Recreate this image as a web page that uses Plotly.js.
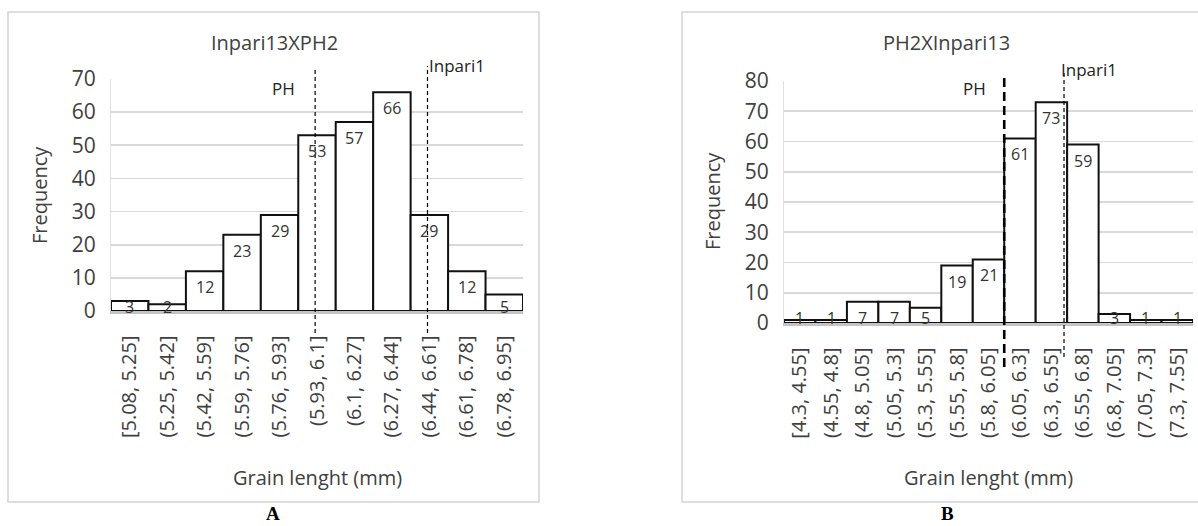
<!DOCTYPE html>
<html>
<head>
<meta charset="utf-8">
<script src="https://cdn.plot.ly/plotly-3.0.1.min.js"></script>
<style>
  html, body { margin: 0; padding: 0; background: #ffffff; }
  #chart { width: 1198px; height: 526px; }
</style>
</head>
<body>
<div id="chart"></div>
<script>
// ---------------- data ----------------
const leftTitle = "Inpari13XPH2";
const rightTitle = "PH2XInpari13";
const xTitle = "Grain lenght (mm)";
const yTitle = "Frequency";

const leftCats = ["[5.08, 5.25]", "(5.25, 5.42]", "(5.42, 5.59]", "(5.59, 5.76]", "(5.76, 5.93]",
                  "(5.93, 6.1]", "(6.1, 6.27]", "(6.27, 6.44]", "(6.44, 6.61]", "(6.61, 6.78]", "(6.78, 6.95]"];
const leftVals = [3, 2, 12, 23, 29, 53, 57, 66, 29, 12, 5];

const rightCats = ["[4.3, 4.55]", "(4.55, 4.8]", "(4.8, 5.05]", "(5.05, 5.3]", "(5.3, 5.55]", "(5.55, 5.8]",
                   "(5.8, 6.05]", "(6.05, 6.3]", "(6.3, 6.55]", "(6.55, 6.8]", "(6.8, 7.05]", "(7.05, 7.3]", "(7.3, 7.55]"];
const rightVals = [1, 1, 7, 7, 5, 19, 21, 61, 73, 59, 3, 1, 1];

// parent reference lines (position on the category axis, as category index)
const leftPH = 4.95, leftInpari1 = 7.95;
const rightPH = 6.5, rightInpari1 = 8.4;

const panelLetters = ["A", "B"];

// ---------------- layout helpers ----------------
const W = 1198, H = 526;
const fx = p => p / W;
const fy = p => 1 - p / H;

const FONT = "Open Sans, Noto Sans, sans-serif";
const TXT = "#404040";

const bar = (x, y, xa, ya) => ({
  type: "bar", x: x, y: y, xaxis: xa, yaxis: ya,
  marker: { color: "#ffffff", line: { color: "#111111", width: 2 } },
  hoverinfo: "skip", showlegend: false
});

const data = [
  bar(leftCats, leftVals, "x", "y"),
  bar(rightCats, rightVals, "x2", "y2")
];

function xAxis(dom, anchor, n) {
  return {
    domain: dom, anchor: anchor, type: "category",
    range: [-0.5, n - 0.5],
    tickangle: -90, ticks: "", ticklabelstandoff: 14,
    tickfont: { family: FONT, size: 20, color: TXT },
    showgrid: false, zeroline: false,
    showline: true, linecolor: "#c4c4c4", linewidth: 2.5,
    fixedrange: true
  };
}
function yAxis(dom, anchor, max) {
  return {
    domain: dom, anchor: anchor, range: [0, max], dtick: 10,
    ticks: "", ticklabelstandoff: 10,
    tickfont: { family: FONT, size: 21, color: TXT },
    showgrid: true, gridcolor: "#d9d9d9", gridwidth: 1.8,
    zeroline: false, showline: true, linecolor: "#e0e0e0", linewidth: 1,
    fixedrange: true
  };
}

const annotations = [];
const shapes = [];

// value labels ("inside end", kept inside the plot for short bars)
function valueLabels(cats, vals, xa, ya, clamp) {
  cats.forEach((c, i) => {
    annotations.push({
      xref: xa, yref: ya, x: c, y: Math.max(vals[i], clamp),
      yanchor: "top", yshift: -3, showarrow: false,
      text: String(vals[i]),
      font: { family: FONT, size: 16, color: "#333333" }
    });
  });
}
valueLabels(leftCats, leftVals, "x", "y", 6);
valueLabels(rightCats, rightVals, "x2", "y2", 7);

// chart frames
shapes.push({ type: "rect", xref: "paper", yref: "paper", x0: fx(8), x1: fx(539), y0: fy(502), y1: fy(12),
  line: { color: "#d4d4d4", width: 1.5 }, fillcolor: "rgba(0,0,0,0)", layer: "below" });
shapes.push({ type: "rect", xref: "paper", yref: "paper", x0: fx(682), x1: fx(1215), y0: fy(502), y1: fy(12),
  line: { color: "#d4d4d4", width: 1.5 }, fillcolor: "rgba(0,0,0,0)", layer: "below" });

// dashed reference lines
function vline(xa, x, yTop, yBot, width, dash) {
  shapes.push({ type: "line", xref: xa, yref: "paper", x0: x, x1: x, y0: fy(yBot), y1: fy(yTop),
    line: { color: "#000000", width: width, dash: dash }, layer: "above" });
}
vline("x", leftPH, 68, 333, 1.2, "4px,3px");
vline("x", leftInpari1, 66, 333, 1.2, "4px,3px");
vline("x2", rightPH, 78, 367, 2.6, "9px,5px");
vline("x2", rightInpari1, 70, 357, 1.2, "4px,3px");

function label(xa, x, yPix, text, anchor, shift) {
  annotations.push({ xref: xa, yref: "paper", x: x, y: fy(yPix), text: text, showarrow: false,
    xanchor: anchor, yanchor: "middle", xshift: shift,
    font: { family: FONT, size: 17, color: "#222222" } });
}
label("x", leftPH, 89, "PH", "right", -18);
label("x", leftInpari1, 65, "Inpari1", "left", 0);
label("x2", rightPH, 88, "PH", "right", -16);
label("x2", rightInpari1, 69, "Inpari1", "left", -5);

// titles
function ptext(xPix, yPix, text, size, angle, extra) {
  annotations.push(Object.assign({ xref: "paper", yref: "paper", x: fx(xPix), y: fy(yPix), text: text,
    showarrow: false, xanchor: "center", yanchor: "middle", textangle: angle,
    font: { family: FONT, size: size, color: TXT } }, extra || {}));
}
ptext(274, 43, leftTitle, 20, 0);
ptext(947, 43, rightTitle, 20, 0);
ptext(39, 195, yTitle, 20, -90);
ptext(712, 201, yTitle, 20, -90);
ptext(317, 477, xTitle, 20, 0);
ptext(988, 477, xTitle, 20, 0);
const letterFont = { family: "Liberation Serif, serif", size: 19, color: "#000000", weight: "bold" };
ptext(273, 525, panelLetters[0], 19, 0, { yanchor: "bottom", borderpad: 0, font: letterFont });
ptext(948, 525, panelLetters[1], 19, 0, { yanchor: "bottom", borderpad: 0, font: letterFont });

const layout = {
  width: W, height: H,
  margin: { l: 0, r: 0, t: 0, b: 0, pad: 0 },
  paper_bgcolor: "#ffffff", plot_bgcolor: "rgba(0,0,0,0)",
  showlegend: false, bargap: 0,
  font: { family: FONT, color: TXT },
  xaxis: xAxis([fx(111), fx(523)], "y", leftCats.length),
  yaxis: yAxis([fy(311), fy(79)], "x", 70),
  xaxis2: xAxis([fx(784), fx(1193)], "y2", rightCats.length),
  yaxis2: yAxis([fy(323), fy(81)], "x2", 80),
  annotations: annotations,
  shapes: shapes
};

Plotly.newPlot("chart", data, layout, { staticPlot: true, displayModeBar: false });
</script>
</body>
</html>
